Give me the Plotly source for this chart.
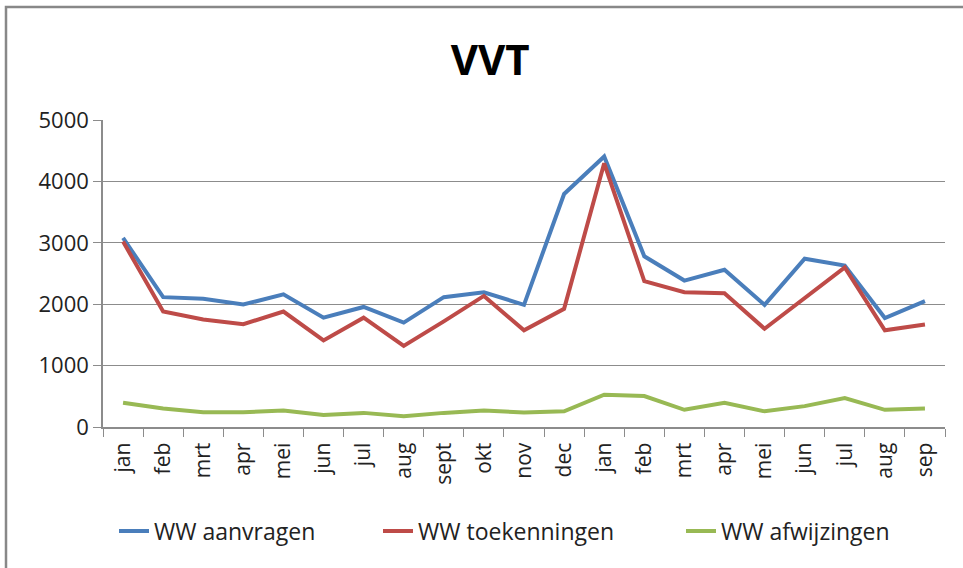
import plotly.graph_objects as go

# months on the x axis (two years, jan .. sep of the second)
months = ['jan', 'feb', 'mrt', 'apr', 'mei', 'jun', 'jul', 'aug', 'sept', 'okt', 'nov', 'dec',
          'jan ', 'feb ', 'mrt ', 'apr ', 'mei ', 'jun ', 'jul ', 'aug ', 'sep']

aanvragen = [3080, 2115, 2090, 1995, 2160, 1780, 1955, 1700, 2115, 2195, 1990, 3795,
             4405, 2780, 2385, 2560, 1990, 2740, 2630, 1775, 2050]
toekenningen = [3020, 1880, 1750, 1675, 1880, 1410, 1780, 1320, 1720, 2135, 1575, 1925,
                4295, 2375, 2195, 2180, 1600, 2100, 2600, 1575, 1670]
afwijzingen = [395, 300, 240, 240, 270, 195, 230, 175, 230, 270, 235, 255,
               525, 505, 280, 395, 255, 340, 470, 280, 300]

y_ticks = [0, 1000, 2000, 3000, 4000, 5000]

FONT = 'Open Sans'
GRID = '#8c8c8c'
# invisible padding after tick labels (svg drops trailing spaces)
PAD = '<span style="color:rgba(0,0,0,0)">{}</span>'

fig = go.Figure()
fig.add_trace(go.Scatter(x=months, y=aanvragen, name='WW aanvragen', mode='lines',
                         line=dict(color='#4a7ebb', width=4), legend='legend'))
fig.add_trace(go.Scatter(x=months, y=toekenningen, name='WW toekenningen', mode='lines',
                         line=dict(color='#be4b48', width=4), legend='legend2'))
fig.add_trace(go.Scatter(x=months, y=afwijzingen, name='WW afwijzingen', mode='lines',
                         line=dict(color='#98b954', width=4), legend='legend3'))

# one legend per series so each entry can sit where excel put it
def legend_at(px):
    return dict(orientation='h', xref='container', x=px / 963, xanchor='left',
                yref='container', y=1 - 531 / 568, yanchor='middle',
                font=dict(size=23), bgcolor='rgba(0,0,0,0)')

fig.update_layout(
    width=963, height=568,
    margin=dict(l=103, r=18, t=120, b=141, autoexpand=False),
    paper_bgcolor='white', plot_bgcolor='white',
    font=dict(family=FONT, color='#222222'),
    title=dict(text='<b>VVT</b>', x=0.509, xref='container', xanchor='center',
               y=0.894, yref='container', yanchor='middle',
               font=dict(size=42, color='black', family=FONT)),
    legend=legend_at(114),
    legend2=legend_at(378),
    legend3=legend_at(681),
    showlegend=True,
)

fig.update_xaxes(
    type='category', tickangle=-90, tickfont=dict(size=21),
    tickvals=months, ticktext=[m.strip() + PAD.format('.') for m in months],
    showline=True, linecolor=GRID, linewidth=1.5,
    ticks='outside', tickson='boundaries', ticklen=8, tickcolor=GRID,
    showgrid=False, range=[-0.5, len(months) - 0.5],
)
fig.update_yaxes(
    range=[0, 5000], tickvals=y_ticks, tickfont=dict(size=22), ticksuffix=PAD.format('0'),
    showline=True, linecolor=GRID, linewidth=1.5,
    ticks='outside', ticklen=8, tickcolor=GRID,
    showgrid=True, gridcolor=GRID, gridwidth=1.2, zeroline=False,
)

# outer chart frame
fig.add_shape(type='rect', xref='paper', yref='paper',
              x0=-0.1152, x1=1.05, y0=-0.5, y1=1.368,
              line=dict(color='#888888', width=2.5), layer='below')

# no page margin, so the figure sits at the window's top left corner
fig.write_html('out.html', config={'displayModeBar': False},
               post_script="document.body.style.margin='0';")
